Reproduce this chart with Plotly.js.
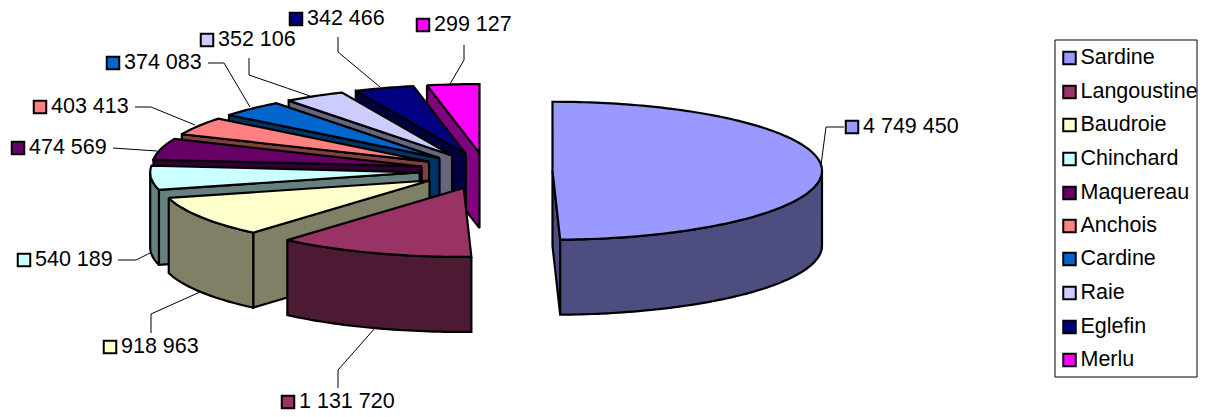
<!DOCTYPE html>
<html><head><meta charset="utf-8">
<script src="https://cdn.plot.ly/plotly-3.0.1.min.js"></script>
<style>html,body{margin:0;padding:0;background:#fff}</style></head>
<body><div id="chart" style="width:1214px;height:417px"></div>
<script>
const categories = ["Sardine","Langoustine","Baudroie","Chinchard","Maquereau","Anchois","Cardine","Raie","Eglefin","Merlu"];
const tonnages = [4749450,1131720,918963,540189,474569,403413,374083,352106,342466,299127];
const topColors = ["#9999FF","#993366","#FFFFCC","#CCFFFF","#660066","#FF8080","#0066CC","#CCCCFF","#000080","#FF00FF"];
const sideColors = ["#4D4D80","#4D1A33","#808066","#668080","#330033","#804040","#003366","#666680","#000040","#800080"];
// label anchor points (axis units = pixels)
const labelX = [852,288,110,24,18,40,113,207,296,423];
const labelY = [127,402,347,260,148,107,63,40,19,25];
const leaderX = [[844,826,821],[338,338,375],[151,151,200],[118,136,150],[113,157],[135,151,195],[208,224,250],[249,249,310],[338,338,380],[464,464,450]];
const leaderY = [[127,127,165],[388,370,328],[333,314,292],[260,260,253],[148,151],[107,107,125],[63,63,107],[58,75,96],[37,52,87],[45,60,84]];
const legendX = 1069.5;
const legendY = [58,92,125,159,193,226,259,293,327,360];

// pie projection
const CX=486, CY=171, RX=269.5, RY=69, DEPTH=75, EX=66.5, EY=18;
const OUT={width:2.2,color:"#000"};
const total=tonnages.reduce((a,b)=>a+b,0);
const fmt=v=>String(v).replace(/\B(?=(\d{3})+$)/g," ");
let cum=0;
const slices=tonnages.map((v,i)=>{
  const a0=cum/total*2*Math.PI; cum+=v; const a1=cum/total*2*Math.PI; const m=(a0+a1)/2;
  return {i,a0,a1,m,ax:CX+EX*Math.sin(m),ay:CY-EY*Math.cos(m)};
});
const traces=[];
function poly(xs,ys,fill,i){
  traces.push({type:"scatter",mode:"lines",x:xs.concat(xs[0]),y:ys.concat(ys[0]),fill:"toself",fillcolor:fill,
    line:{color:OUT.color,width:OUT.width,simplify:false},hoverinfo:"skip",showlegend:false,name:categories[i]});
}
const pt=(s,a)=>[s.ax+RX*Math.sin(a),s.ay-RY*Math.cos(a)];
function arc(s,a0,a1){
  const xs=[],ys=[],n=Math.max(2,Math.ceil((a1-a0)/0.02));
  for(let k=0;k<=n;k++){const p=pt(s,a0+(a1-a0)*k/n);xs.push(p[0]);ys.push(p[1]);}
  return [xs,ys];
}
function cutVisible(s,a){
  const P=pt(s,a),M=pt(s,s.m);
  const ex=P[0]-s.ax,ey=P[1]-s.ay;
  const cM=ex*(M[1]-s.ay)-ey*(M[0]-s.ax);
  return cM*ex<0;
}
slices.slice().sort((p,q)=>p.ay-q.ay).forEach(s=>{
  const c=s.i, side=sideColors[c];
  [s.a0,s.a1].forEach(a=>{
    if(cutVisible(s,a)){
      const P=pt(s,a);
      poly([s.ax,P[0],P[0],s.ax],[s.ay,P[1],P[1]+DEPTH,s.ay+DEPTH],side,c);
    }
  });
  const w0=Math.max(s.a0,Math.PI/2),w1=Math.min(s.a1,3*Math.PI/2);
  if(w1>w0){
    const [ax,ay]=arc(s,w0,w1);
    poly(ax.concat(ax.slice().reverse()),ay.concat(ay.slice().reverse().map(y=>y+DEPTH)),side,c);
  }
  const [tx,ty]=arc(s,s.a0,s.a1);
  poly([s.ax].concat(tx),[s.ay].concat(ty),topColors[c],c);
});
// leader lines
leaderX.forEach((xs,i)=>traces.push({type:"scatter",mode:"lines",x:xs,y:leaderY[i],line:{color:"#000",width:1},hoverinfo:"skip",showlegend:false}));
const TXT={family:"Liberation Sans, Arial, sans-serif",size:21.5,color:"#000"};
const SW={symbol:"square",size:12.5,color:topColors,line:{color:"#000",width:2}};
const TEXT_GAP=11, TEXT_DROP=1;
function keyed(xs,ys,texts){
  traces.push({type:"scatter",mode:"markers",x:xs,y:ys,marker:SW,hoverinfo:"skip",showlegend:false,cliponaxis:false});
  traces.push({type:"scatter",mode:"text",x:xs.map(x=>x+TEXT_GAP),y:ys.map(y=>y+TEXT_DROP),text:texts,textposition:"middle right",textfont:TXT,hoverinfo:"skip",showlegend:false,cliponaxis:false});
}
keyed(labelX,labelY,tonnages.map(fmt));
keyed(categories.map(()=>legendX),legendY,categories);
const layout={width:1214,height:417,margin:{l:0,r:0,t:0,b:0},paper_bgcolor:"#fff",plot_bgcolor:"#fff",showlegend:false,
  xaxis:{range:[0,1214],visible:false,fixedrange:true},yaxis:{range:[417,0],visible:false,fixedrange:true},
  shapes:[{type:"rect",xref:"x",yref:"y",x0:1055,x1:1197,y0:40,y1:377,line:{color:"#000",width:1},fillcolor:"rgba(0,0,0,0)",layer:"below"}]};
Plotly.newPlot("chart",traces,layout,{displayModeBar:false,staticPlot:true});
</script></body></html>
